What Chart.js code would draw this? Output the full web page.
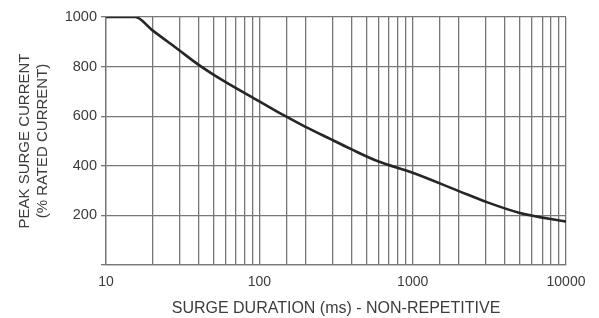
<!DOCTYPE html>
<html>
<head>
<meta charset="utf-8">
<script src="https://cdn.jsdelivr.net/npm/chart.js@4/dist/chart.umd.min.js"></script>
<style>
  html, body { margin: 0; padding: 0; background: #fff; }
  #wrap { width: 599px; height: 318px; position: relative; }
</style>
</head>
<body>
<div id="wrap"><canvas id="surge"></canvas></div>
<script>
// surge duration (ms) vs peak current (% of rated)
const durations = [10, 15.5, 20, 30, 40, 60, 100, 143, 200, 300, 400, 600, 1000, 2000, 3000, 5000, 10000];
const peakCurrent = [1000, 1000, 947, 866, 808, 738, 660, 605, 557, 504, 466, 417, 372, 298, 255, 210, 175];
const xLabels = [10, 100, 1000, 10000];
const yLabels = [200, 400, 600, 800, 1000];

const gridCol = '#777';
const textCol = '#3c3c3c';
const fontFam = '"Liberation Sans", Arial, Helvetica, sans-serif';

const points = durations.map((d, i) => ({ x: d, y: peakCurrent[i] }));

new Chart(document.getElementById('surge'), {
    type: 'scatter',
    data: {
        datasets: [{
            data: points,
            showLine: true,
            borderColor: '#262626',
            borderWidth: 2.6,
            pointRadius: 0,
            cubicInterpolationMode: 'monotone',
            fill: false
        }]
    },
    options: {
        responsive: true,
        maintainAspectRatio: false,
        animation: false,
        layout: { padding: { left: 0, top: 17, right: 33, bottom: 0 } },
        plugins: { legend: { display: false }, tooltip: { enabled: false } },
        scales: {
            x: {
                type: 'logarithmic',
                min: 10,
                max: 10000,
                afterFit: s => { s.height = 53; },
                grid: { color: gridCol, lineWidth: 1.3, drawTicks: false },
                border: { color: gridCol, width: 1.3 },
                ticks: {
                    autoSkip: false,
                    maxRotation: 0,
                    padding: 9,
                    color: textCol,
                    font: { family: fontFam, size: 14 },
                    callback: v => xLabels.includes(v) ? String(v) : ''
                },
                title: {
                    display: true,
                    text: 'SURGE DURATION (ms) - NON-REPETITIVE',
                    color: textCol,
                    font: { family: fontFam, size: 16 },
                    padding: { top: 0, bottom: 0 }
                }
            },
            y: {
                min: 0,
                max: 1000,
                afterFit: s => { s.width = 106; },
                grid: { color: gridCol, lineWidth: 1.3, tickLength: 5 },
                border: { color: gridCol, width: 1.3 },
                ticks: {
                    stepSize: 200,
                    padding: 4,
                    color: textCol,
                    font: { family: fontFam, size: 14.5 },
                    callback: v => yLabels.includes(v) ? String(v) : ''
                },
                title: {
                    display: true,
                    text: ['PEAK SURGE CURRENT', '(% RATED CURRENT)'],
                    color: textCol,
                    font: { family: fontFam, size: 15, lineHeight: 1.25 },
                    padding: { top: 15, bottom: 0 }
                }
            }
        }
    }
});
</script>
</body>
</html>
